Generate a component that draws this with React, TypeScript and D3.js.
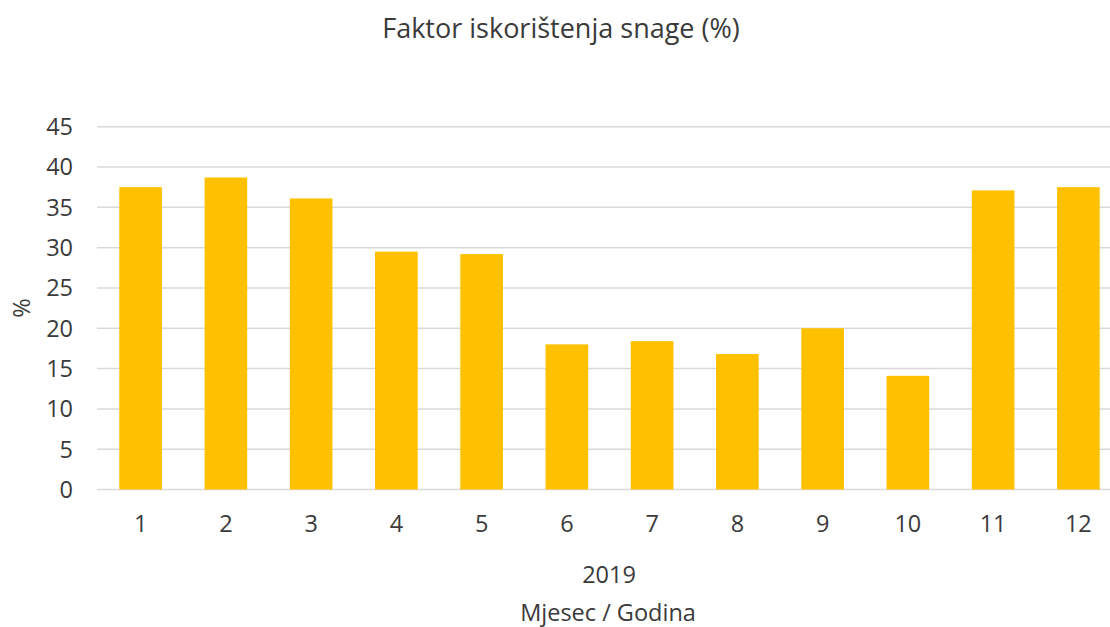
import React from 'react';
import * as d3 from 'd3';

// mjeseci 2019
const months = ['1', '2', '3', '4', '5', '6', '7', '8', '9', '10', '11', '12'];
// faktor iskorištenja snage (%)
const values = [37.5, 38.7, 36.1, 29.5, 29.2, 18.0, 18.4, 16.8, 20.0, 14.1, 37.1, 37.5];
const yTicks = [0, 5, 10, 15, 20, 25, 30, 35, 40, 45];

const W = 1110;
const H = 627;
const font = "'Open Sans', 'Liberation Sans', sans-serif";
const textColor = '#3a3a3a';

const App = () => {
    const x = d3.scaleBand().domain(months).range([98, 1121]).paddingInner(0.5).paddingOuter(0.25);
    const y = d3.scaleLinear().domain([0, 45]).range([489.5, 126.7]);

    return (
        <svg width={W} height={H} style={{ position: 'absolute', left: 0, top: 0, background: '#fff' }}>
            <text x={561} y={38} textAnchor="middle" fontFamily={font} fontSize={27} fill={textColor}>
                Faktor iskorištenja snage (%)
            </text>

            {/* mreža */}
            {yTicks.map(t => (
                <g key={t}>
                    <line x1={97} x2={W} y1={y(t)} y2={y(t)} stroke="#d9d9d9" strokeWidth={1.5} />
                    <text x={73} y={y(t)} dy="0.36em" textAnchor="end" fontFamily={font} fontSize={23.5} fill={textColor}>
                        {t}
                    </text>
                </g>
            ))}

            {/* stupci */}
            {values.map((v, i) => (
                <rect
                    key={months[i]}
                    x={x(months[i])}
                    y={y(v)}
                    width={x.bandwidth()}
                    height={y(0) - y(v)}
                    fill="#ffc000"
                />
            ))}

            {months.map(m => (
                <text key={m} x={(x(m) ?? 0) + x.bandwidth() / 2} y={532} textAnchor="middle" fontFamily={font} fontSize={23.5} fill={textColor}>
                    {m}
                </text>
            ))}

            <text x={609} y={583} textAnchor="middle" fontFamily={font} fontSize={23.5} fill={textColor}>2019</text>
            <text x={608} y={621} textAnchor="middle" fontFamily={font} fontSize={23.5} fill={textColor}>Mjesec / Godina</text>
            <text transform="translate(30,308) rotate(-90)" textAnchor="middle" fontFamily={font} fontSize={23.5} fill={textColor}>%</text>
        </svg>
    );
};

export default App;
